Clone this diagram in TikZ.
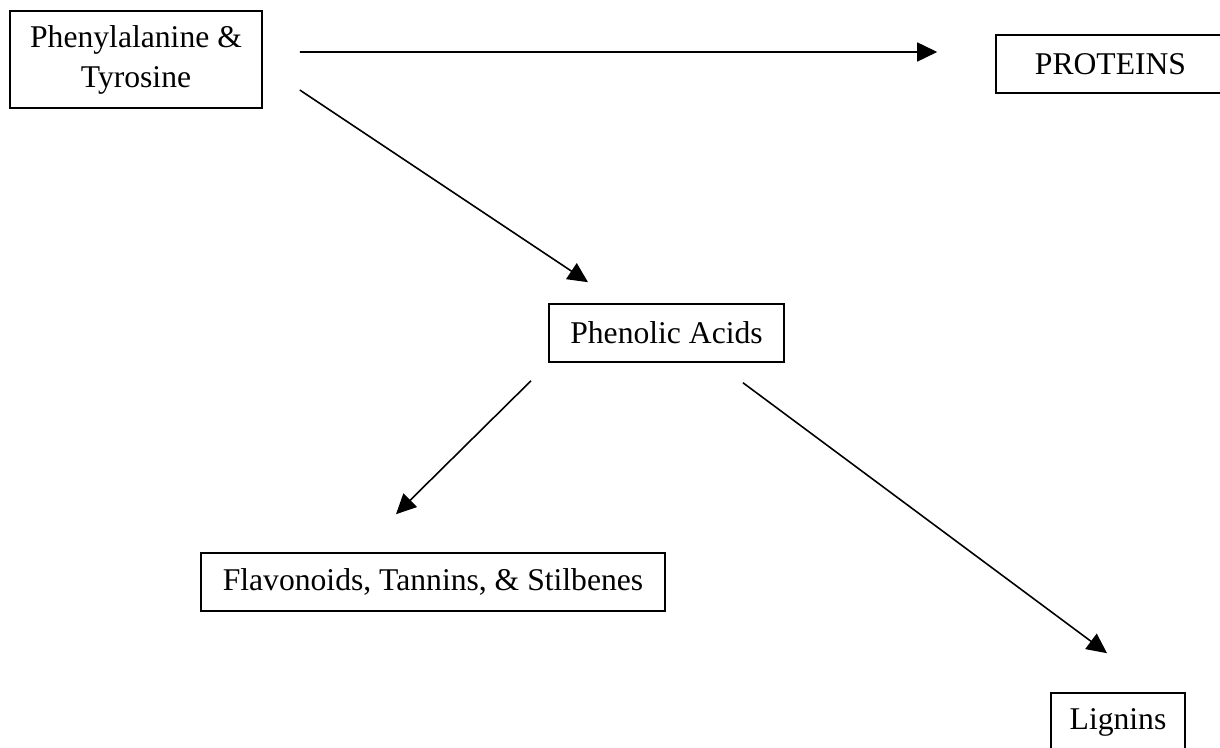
\documentclass[tikz,border=0pt]{standalone}
\usepackage{fontspec}
\setmainfont{Liberation Serif}
\usetikzlibrary{arrows.meta,calc}
\begin{document}
\begin{tikzpicture}[box/.style={draw,line width=0.9pt,inner sep=0pt,align=center,minimum height=1.16cm},
    arr/.style={-{Triangle[length=0.4cm,width=0.38cm]},line width=0.9pt},
    font=\fontsize{18}{22.7}\selectfont]
        \useasboundingbox (0,0) rectangle (24.4,-14.96);
        \node[box,minimum width=5.04cm,minimum height=1.94cm] (phe) at (2.72,-1.19) {Phenylalanine \&\\Tyrosine};
        \node[box,minimum width=4.58cm] (prot) at (22.21,-1.28) {PROTEINS};
        \node[box,minimum width=4.7cm] (phen) at (13.33,-6.66) {Phenolic Acids};
        \node[box,minimum width=9.28cm] (flav) at (8.66,-11.64) {Flavonoids, Tannins, \& Stilbenes};
        \node[box,minimum width=2.68cm] (lig) at (22.36,-14.44) {Lignins};
        \draw[arr] ($(phe.east)+(0.74,0.15)$) -- ($(prot.west)+(-1.16,0.24)$);
        \draw[arr] ($(phe.east)+(0.74,-0.61)$) -- ($(phen.north)+(-1.57,0.42)$);
        \draw[arr] ($(phen.south)+(-2.71,-0.36)$) -- ($(flav.north)+(-0.74,0.76)$);
        \draw[arr] ($(phen.south)+(1.53,-0.4)$) -- ($(lig.north)+(-0.22,0.78)$);
    \end{tikzpicture}
\end{document}
